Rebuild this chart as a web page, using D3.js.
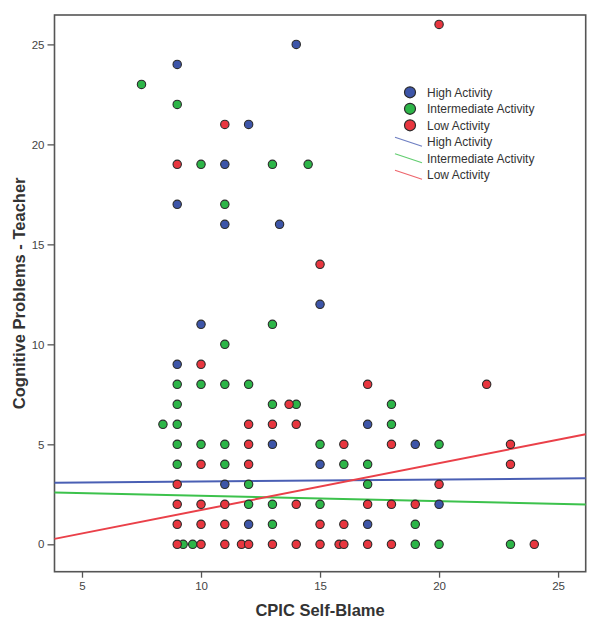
<!DOCTYPE html>
<html><head><meta charset="utf-8">
<script src="https://cdn.jsdelivr.net/npm/d3@7"></script>
<style>body{margin:0;background:#fff;}svg{display:block;font-family:Arial,"Liberation Sans",sans-serif;}</style>
</head><body>
<svg id="c" width="600" height="625"></svg>
<script>
const groups = ["High Activity", "Intermediate Activity", "Low Activity"];
const colors = ["#3d55a8", "#2db548", "#e8363f"];
const lineColors = ["#4a5fb4", "#3cc24c", "#ea4049"];
const highPts = [[14,25],[9,24],[12,21],[11,19],[9,17],[11,16],[13.3,16],[15,12],[10,11],[9,9],[17,6],[13,5],[19,5],[15,4],[11,3],[20,2],[12,1],[17,1]];
const interPts = [[7.5,23],[9,22],[10,19],[13,19],[14.5,19],[11,17],[13,11],[11,10],[9,8],[10,8],[11,8],[12,8],[9,7],[13,7],[14,7],[18,7],[8.4,6],[9,6],[18,6],[9,5],[10,5],[11,5],[15,5],[20,5],[9,4],[11,4],[16,4],[17,4],[12,3],[17,3],[12,2],[13,2],[15,2],[13,1],[19,1],[9.25,0],[9.65,0],[19,0],[20,0],[23,0]];
const lowPts = [[20,26],[11,21],[9,19],[15,14],[10,9],[17,8],[22,8],[13.7,7],[12,6],[13,6],[14,6],[12,5],[16,5],[18,5],[23,5],[10,4],[12,4],[23,4],[9,3],[20,3],[9,2],[10,2],[11,2],[14,2],[17,2],[18,2],[19,2],[9,1],[10,1],[11,1],[15,1],[16,1],[9,0],[10,0],[11,0],[11.7,0],[12,0],[13,0],[14,0],[15,0],[15.8,0],[16,0],[17,0],[18,0],[24,0]];
const fitIntercept = [3.04, 2.70, -0.63];
const fitSlope = [0.0099, -0.027, 0.2345];
const xTicks = [5, 10, 15, 20, 25];
const yTicks = [0, 5, 10, 15, 20, 25];
const xTitle = "CPIC Self-Blame";
const yTitle = "Cognitive Problems - Teacher";

const svg = d3.select("#c");
const L = 54.5, R = 585.7, T = 15, B = 571.7;
const x = d3.scaleLinear().domain([3.845, 26.16]).range([L, R]);
const y = d3.scaleLinear().domain([-1.37, 26.47]).range([B, T]);

// frame
svg.append("rect").attr("x", L).attr("y", T).attr("width", R - L).attr("height", B - T)
  .attr("fill", "none").attr("stroke", "#555").attr("stroke-width", 1.6);

const xa = svg.append("g").attr("transform", `translate(0,${B})`)
  .call(d3.axisBottom(x).tickValues(xTicks).tickSize(6).tickSizeOuter(0).tickPadding(4));
const ya = svg.append("g").attr("transform", `translate(${L},0)`)
  .call(d3.axisLeft(y).tickValues(yTicks).tickSize(7).tickSizeOuter(0).tickPadding(3));
[xa, ya].forEach(a => {
  a.select(".domain").remove();
  a.selectAll("line").attr("stroke", "#555").attr("stroke-width", 1.3);
  a.selectAll("text").attr("fill", "#444").attr("font-size", 11.5).attr("font-family", "Arial, Liberation Sans, sans-serif");
});

// fit lines
const dom = x.domain();
fitIntercept.forEach((b, i) => {
  svg.append("line")
    .attr("x1", x(dom[0])).attr("y1", y(b + fitSlope[i] * dom[0]))
    .attr("x2", x(dom[1])).attr("y2", y(b + fitSlope[i] * dom[1]))
    .attr("stroke", lineColors[i]).attr("stroke-width", 2);
});

// points
[highPts, interPts, lowPts].forEach((pts, i) => {
  svg.append("g").selectAll("circle").data(pts).join("circle")
    .attr("cx", d => x(d[0])).attr("cy", d => y(d[1])).attr("r", 4.2)
    .attr("fill", colors[i]).attr("stroke", "#2a2a2a").attr("stroke-width", 1.1);
});

// titles
svg.append("text").attr("x", (L + R) / 2).attr("y", 616).attr("text-anchor", "middle")
  .attr("font-size", 16.5).attr("font-weight", "bold").attr("fill", "#333").text(xTitle);
svg.append("text").attr("transform", `translate(25,${(T + B) / 2}) rotate(-90)`).attr("text-anchor", "middle")
  .attr("font-size", 16.5).attr("font-weight", "bold").attr("fill", "#333").text(yTitle);

// legend
const lg = svg.append("g");
const lx = 410, ly0 = 92.3, step = 16.5;
groups.forEach((g, i) => {
  lg.append("circle").attr("cx", lx).attr("cy", ly0 + i * step).attr("r", 5.5)
    .attr("fill", colors[i]).attr("stroke", "#2a2a2a").attr("stroke-width", 1.2);
  lg.append("text").attr("x", 427).attr("y", ly0 + i * step + 4.3).attr("font-size", 12).attr("fill", "#333").text(g);
});
groups.forEach((g, i) => {
  const cy = ly0 + (i + 3) * step;
  lg.append("line").attr("x1", 395).attr("y1", cy - 4.5).attr("x2", 422).attr("y2", cy + 4.5)
    .attr("stroke", lineColors[i]).attr("stroke-width", 1.2).attr("opacity", 0.8);
  lg.append("text").attr("x", 427).attr("y", cy + 4.3).attr("font-size", 12).attr("fill", "#333").text(g);
});
</script>
</body></html>
